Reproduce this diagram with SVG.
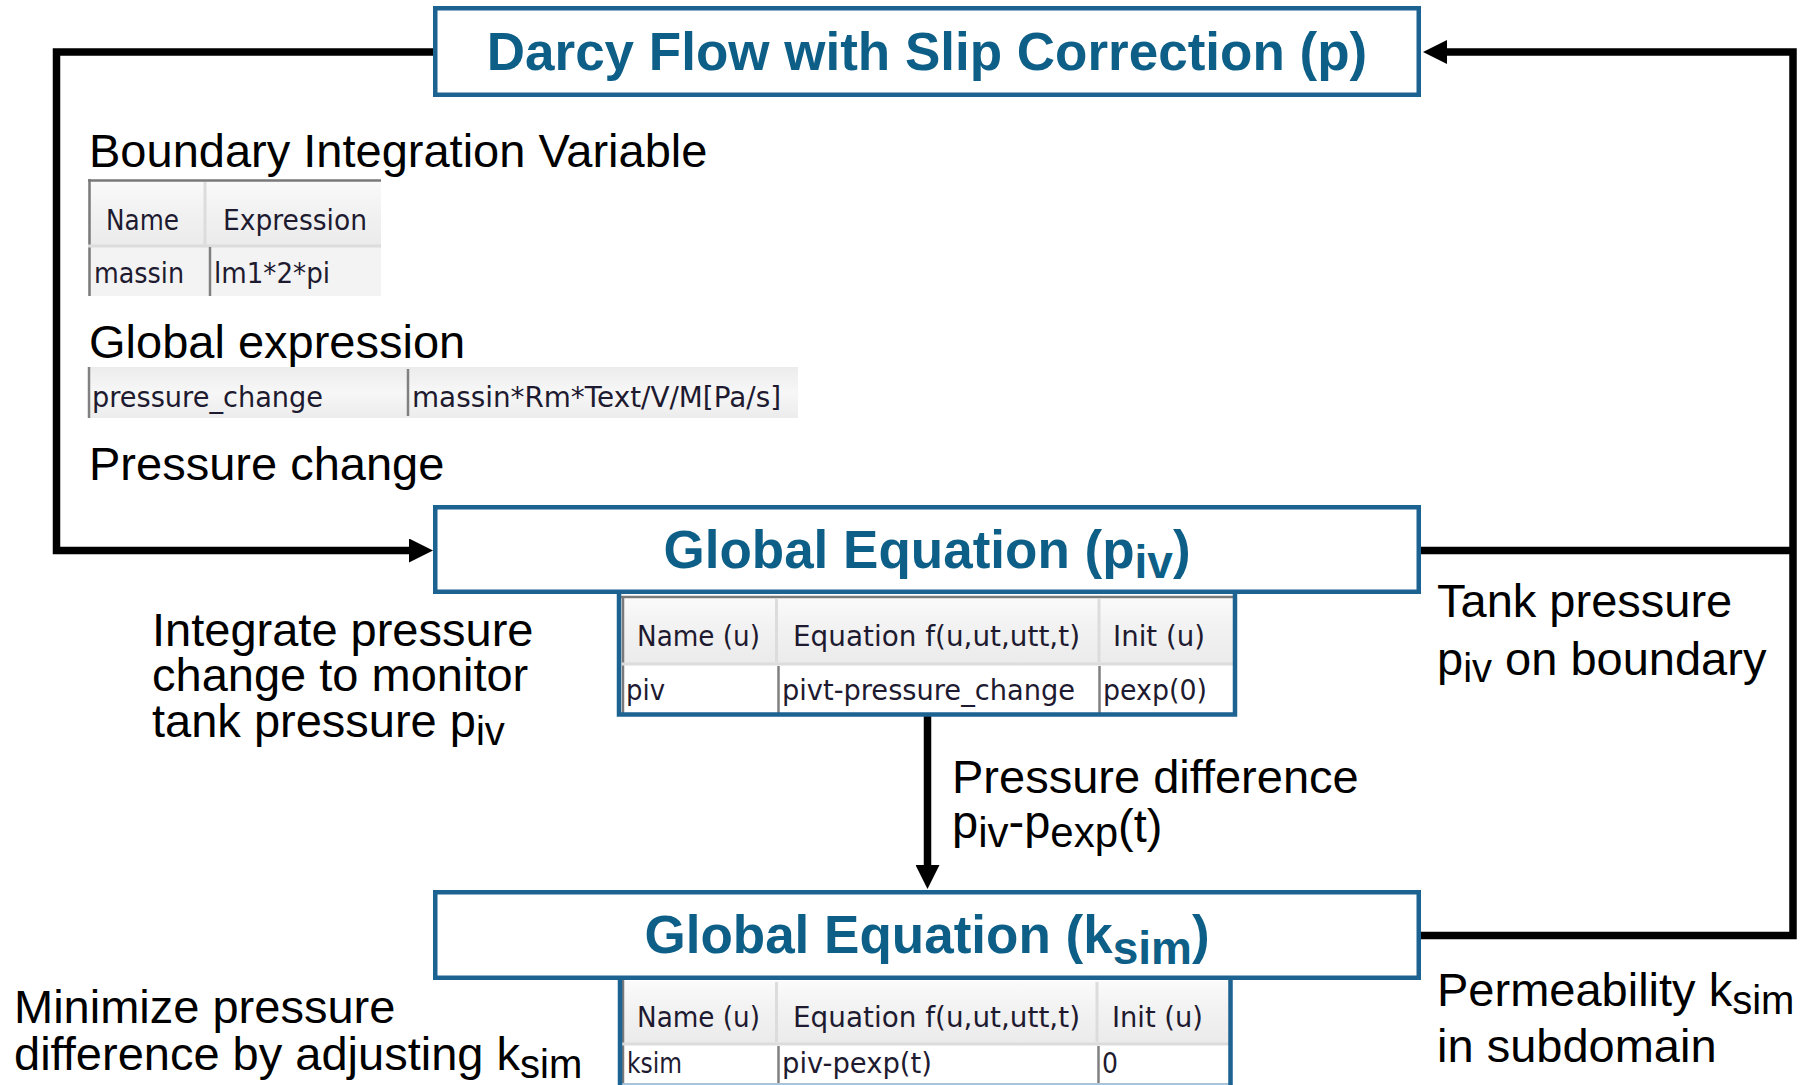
<svg xmlns="http://www.w3.org/2000/svg" width="1812" height="1085" viewBox="0 0 1812 1085">
<defs>
<style>
.box{fill:#fff;stroke:#1d6392;stroke-width:4.5}
.title{font-family:"Liberation Sans",Arial,sans-serif;font-weight:bold;font-size:53px;fill:#0e5f87;text-anchor:middle}
.lbl{font-family:"Liberation Sans",Arial,sans-serif;font-size:47px;fill:#000}
.tt{font-family:"DejaVu Sans",Verdana,sans-serif;font-size:28px;fill:#1e1a30}
.conn{fill:none;stroke:#000;stroke-width:7.5;stroke-linejoin:miter}
.tb{fill:none;stroke:#1d6392;stroke-width:4.5}
.gl{stroke:#7a7a7a;stroke-width:2.5}
.ll{stroke:#dcdcdc;stroke-width:3}
.dl{stroke:#808080;stroke-width:2.5}
</style>
<linearGradient id="hdr" x1="0" y1="0" x2="0" y2="1">
<stop offset="0" stop-color="#fbfbfb"/>
<stop offset="0.4" stop-color="#f3f3f3"/>
<stop offset="1" stop-color="#ebebeb"/>
</linearGradient>
<linearGradient id="expr" x1="0" y1="0" x2="0" y2="1">
<stop offset="0" stop-color="#ececec"/>
<stop offset="0.5" stop-color="#f7f7f7"/>
<stop offset="1" stop-color="#ececec"/>
</linearGradient>
<marker id="ah" markerUnits="userSpaceOnUse" markerWidth="24" markerHeight="24" refX="1" refY="12" orient="auto">
<path d="M0,0 L24,12 L0,24 Z" fill="#000"/>
</marker>
</defs>
<rect width="1812" height="1085" fill="#fff"/>

<g id="connectors">
<path class="conn" d="M433,52 H56.5 V550.5 H410" marker-end="url(#ah)"/>
<path class="conn" d="M1421,935.5 H1793 V52 H1446" marker-end="url(#ah)"/>
<path class="conn" d="M1421,550.5 H1793"/>
<path class="conn" d="M927.5,716 V866" stroke-width="9" marker-end="url(#ah)"/>
</g>

<g id="node-darcy">
<rect class="box" x="435.25" y="8.25" width="983.5" height="86.5"/>
<text class="title" x="927" y="70">Darcy Flow with Slip Correction (p)</text>
</g>

<g id="boundary-integration">
<text class="lbl" x="89" y="167">Boundary Integration Variable</text>
<rect x="88" y="179" width="293" height="67" fill="url(#hdr)"/>
<rect x="88" y="246" width="293" height="50" fill="#f3f3f3"/>
<line x1="88" y1="180.5" x2="381" y2="180.5" class="gl"/>
<line x1="89.5" y1="179" x2="89.5" y2="296" class="gl"/>
<line x1="88" y1="246" x2="381" y2="246" class="ll"/>
<line x1="205" y1="182" x2="205" y2="245" class="ll"/>
<line x1="210" y1="247" x2="210" y2="296" class="dl"/>
<text class="tt" x="106" y="230" textLength="73" lengthAdjust="spacingAndGlyphs">Name</text>
<text class="tt" x="223" y="230" textLength="144" lengthAdjust="spacingAndGlyphs">Expression</text>
<text class="tt" x="94" y="283" textLength="90" lengthAdjust="spacingAndGlyphs">massin</text>
<text class="tt" x="214" y="283" textLength="116" lengthAdjust="spacingAndGlyphs">lm1*2*pi</text>
</g>

<g id="global-expression">
<text class="lbl" x="89" y="358">Global expression</text>
<rect x="88" y="367" width="710" height="51" fill="url(#expr)"/>
<line x1="89" y1="367" x2="89" y2="418" class="dl"/>
<line x1="408" y1="369" x2="408" y2="416" class="dl" stroke-width="1.8"/>
<text class="tt" x="92" y="407" textLength="231" lengthAdjust="spacingAndGlyphs">pressure_change</text>
<text class="tt" x="412" y="407" textLength="369" lengthAdjust="spacingAndGlyphs">massin*Rm*Text/V/M[Pa/s]</text>
<text class="lbl" x="89" y="480">Pressure change</text>
</g>

<g id="node-global-piv">
<rect class="box" x="435.25" y="507.25" width="983.5" height="84.5"/>
<text class="title" x="927" y="568">Global Equation (p<tspan font-size="46" dy="10">iv</tspan><tspan dy="-10">)</tspan></text>
<rect x="621" y="596" width="612" height="67" fill="url(#hdr)"/>
<rect x="621" y="663" width="612" height="50" fill="#fff"/>
<line x1="621" y1="597" x2="1233" y2="597" class="gl"/>
<line x1="623" y1="596" x2="623" y2="713" class="gl" stroke-width="2"/>
<line x1="621" y1="664" x2="1233" y2="664" class="ll"/>
<line x1="776.5" y1="598" x2="776.5" y2="662" class="ll" stroke-width="5"/>
<line x1="1099" y1="598" x2="1099" y2="662" class="ll" stroke-width="5"/>
<line x1="778.5" y1="666" x2="778.5" y2="713" class="dl"/>
<line x1="1099.5" y1="666" x2="1099.5" y2="713" class="dl"/>
<path class="tb" d="M619,594 V714.5 H1235 V594"/>
<text class="tt" x="637" y="646" textLength="123" lengthAdjust="spacingAndGlyphs">Name (u)</text>
<text class="tt" x="793" y="646" textLength="287" lengthAdjust="spacingAndGlyphs">Equation f(u,ut,utt,t)</text>
<text class="tt" x="1113" y="646" textLength="92" lengthAdjust="spacingAndGlyphs">Init (u)</text>
<text class="tt" x="626" y="700" textLength="39" lengthAdjust="spacingAndGlyphs">piv</text>
<text class="tt" x="782" y="700" textLength="293" lengthAdjust="spacingAndGlyphs">pivt-pressure_change</text>
<text class="tt" x="1103" y="700" textLength="104" lengthAdjust="spacingAndGlyphs">pexp(0)</text>
</g>

<g id="node-global-ksim">
<rect class="box" x="435.25" y="892.25" width="983.5" height="85.5"/>
<text class="title" x="927" y="953">Global Equation (k<tspan font-size="46" dy="11">sim</tspan><tspan dy="-11">)</tspan></text>
<rect x="622" y="981" width="607" height="62" fill="url(#hdr)"/>
<rect x="622" y="1043" width="607" height="42" fill="#fff"/>
<line x1="623" y1="980" x2="623" y2="1085" class="gl" stroke-width="2"/>
<line x1="622" y1="1044" x2="1229" y2="1044" class="ll"/>
<line x1="776.5" y1="982" x2="776.5" y2="1042" class="ll" stroke-width="5"/>
<line x1="1097" y1="982" x2="1097" y2="1042" class="ll" stroke-width="5"/>
<line x1="778.5" y1="1046" x2="778.5" y2="1085" class="dl"/>
<line x1="1098.5" y1="1046" x2="1098.5" y2="1085" class="dl"/>
<line x1="622" y1="1084" x2="1229" y2="1084" stroke="#a9c3d8" stroke-width="2"/>
<path class="tb" d="M620,978 V1085 M1230.5,978 V1085"/>
<text class="tt" x="637" y="1027" textLength="123" lengthAdjust="spacingAndGlyphs">Name (u)</text>
<text class="tt" x="793" y="1027" textLength="287" lengthAdjust="spacingAndGlyphs">Equation f(u,ut,utt,t)</text>
<text class="tt" x="1112" y="1027" textLength="91" lengthAdjust="spacingAndGlyphs">Init (u)</text>
<text class="tt" x="627" y="1073" textLength="55" lengthAdjust="spacingAndGlyphs">ksim</text>
<text class="tt" x="782" y="1073" textLength="150" lengthAdjust="spacingAndGlyphs">piv-pexp(t)</text>
<text class="tt" x="1102" y="1073" textLength="16" lengthAdjust="spacingAndGlyphs">0</text>
</g>

<g id="labels">
<text class="lbl" x="152" y="646">Integrate pressure</text>
<text class="lbl" x="152" y="691">change to monitor</text>
<text class="lbl" x="152" y="737">tank pressure p<tspan font-size="40" dy="8">iv</tspan></text>
<text class="lbl" x="14" y="1023">Minimize pressure</text>
<text class="lbl" x="14" y="1070">difference by adjusting k<tspan font-size="40" dy="8">sim</tspan></text>
<text class="lbl" x="952" y="793">Pressure difference</text>
<text class="lbl" x="952" y="838">p<tspan font-size="42" dy="9">iv</tspan><tspan dy="-9">-p</tspan><tspan font-size="42" dy="9">exp</tspan><tspan dy="-5">(t)</tspan></text>
<text class="lbl" x="1437" y="617">Tank pressure</text>
<text class="lbl" x="1437" y="675">p<tspan font-size="40" dy="7">iv</tspan><tspan dy="-7"> on boundary</tspan></text>
<text class="lbl" x="1437" y="1006">Permeability k<tspan font-size="40" dy="8">sim</tspan></text>
<text class="lbl" x="1437" y="1062">in subdomain</text>
</g>
</svg>
